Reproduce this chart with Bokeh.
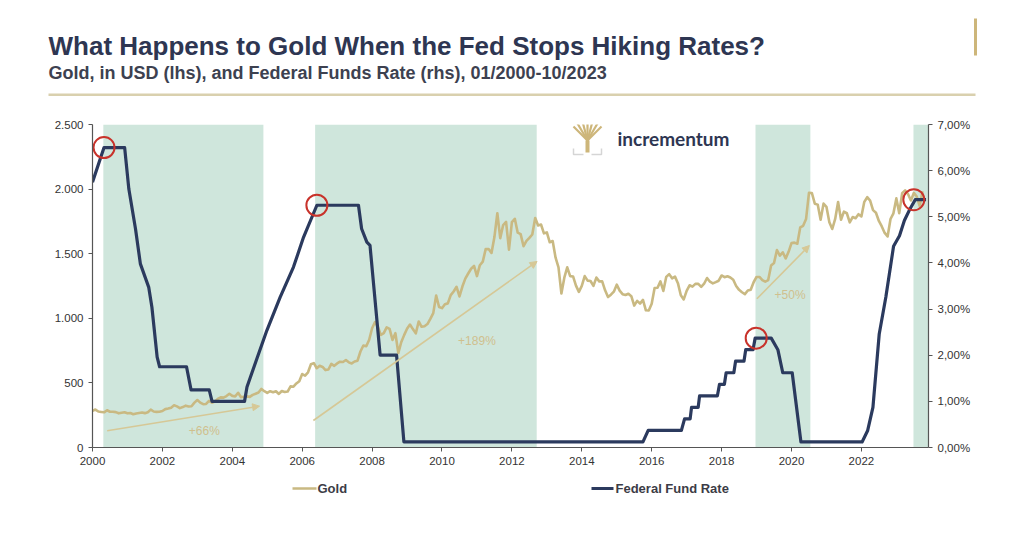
from bokeh.plotting import figure
from bokeh.layouts import column, row
from bokeh.models import (Range1d, LinearAxis, FixedTicker, Label, Arrow, NormalHead)
from bokeh.embed import file_html
from bokeh.resources import INLINE
from bokeh.core.properties import value

# ---------------- data ----------------
gold_start_year = 2000
# month-end gold price in USD, Jan 2000 .. Oct 2023
gold_usd = [
    283.3, 293.7, 278.4, 275.1, 272.3, 288.2, 276.8, 277.0, 273.7, 264.5, 269.1, 272.7,
    264.5, 266.7, 257.7, 263.2, 267.5, 270.6, 265.9, 273.0, 293.1, 278.8, 275.5, 276.5,
    282.3, 296.9, 301.4, 308.2, 326.6, 318.5, 304.7, 312.8, 323.7, 316.9, 319.1, 347.2,
    367.5, 347.5, 334.9, 336.8, 361.4, 346.0, 354.8, 375.6, 388.0, 386.3, 398.4, 416.3,
    399.8, 395.9, 423.7, 388.5, 393.3, 395.8, 391.4, 407.3, 415.7, 425.6, 453.4, 435.6,
    422.2, 435.5, 427.5, 435.7, 414.5, 437.1, 429.0, 433.3, 473.3, 470.8, 495.7, 513.0,
    568.8, 556.0, 582.0, 644.0, 653.0, 613.5, 632.5, 623.5, 599.3, 603.8, 646.7, 632.0,
    650.5, 664.2, 661.8, 677.0, 659.1, 650.5, 665.5, 672.0, 743.0, 789.5, 783.5, 833.8,
    923.3, 971.5, 933.5, 871.0, 885.8, 930.3, 918.0, 833.0, 884.5, 730.8, 814.5, 869.8,
    919.5, 952.0, 916.5, 883.3, 975.5, 934.5, 939.0, 955.5, 995.8, 1040.0, 1175.8, 1087.5,
    1078.5, 1109.5, 1115.5, 1179.3, 1207.5, 1244.0, 1169.0, 1246.0, 1307.0, 1346.8, 1383.5, 1405.5,
    1327.0, 1411.0, 1439.0, 1535.5, 1536.5, 1505.5, 1628.5, 1813.5, 1620.0, 1722.0, 1746.0, 1531.0,
    1744.0, 1770.0, 1662.5, 1651.3, 1558.0, 1598.5, 1622.0, 1648.5, 1776.0, 1719.0, 1726.0, 1657.5,
    1664.8, 1588.5, 1598.3, 1469.0, 1394.5, 1192.0, 1314.5, 1394.8, 1326.5, 1324.0, 1253.0, 1204.5,
    1251.0, 1326.5, 1291.8, 1288.5, 1250.5, 1315.0, 1285.8, 1285.8, 1216.5, 1164.3, 1182.8, 1206.0,
    1260.3, 1214.0, 1187.0, 1180.3, 1190.3, 1171.0, 1098.4, 1135.0, 1114.0, 1142.4, 1061.9, 1060.0,
    1111.8, 1234.9, 1237.0, 1285.7, 1212.1, 1320.8, 1342.0, 1309.3, 1322.5, 1272.0, 1178.1, 1145.9,
    1212.8, 1255.6, 1244.9, 1266.5, 1266.2, 1243.3, 1267.6, 1311.8, 1283.1, 1270.2, 1280.2, 1291.0,
    1331.3, 1318.4, 1325.5, 1315.5, 1298.6, 1250.5, 1220.1, 1201.5, 1187.3, 1214.9, 1220.7, 1279.0,
    1319.8, 1320.0, 1295.4, 1283.6, 1295.5, 1409.0, 1427.6, 1528.4, 1485.3, 1510.9, 1463.4, 1514.8,
    1582.5, 1585.7, 1577.2, 1702.8, 1715.9, 1768.1, 1971.0, 1970.0, 1886.9, 1879.9, 1762.6, 1887.6,
    1863.2, 1743.3, 1691.1, 1769.1, 1899.9, 1763.2, 1825.8, 1813.1, 1742.8, 1783.4, 1774.8, 1805.9,
    1788.2, 1901.4, 1937.4, 1911.3, 1837.2, 1817.0, 1753.4, 1711.0, 1660.6, 1633.6, 1768.5, 1812.4,
    1928.1, 1813.8, 1969.0, 1990.0, 1962.2, 1912.3, 1970.5, 1942.3, 1870.1, 1983.9,
]

fed_dates = [2000.00, 2000.33, 2000.92, 2001.04, 2001.23, 2001.37, 2001.61, 2001.70, 2001.85, 2001.92,
             2002.69, 2002.82, 2003.34, 2003.42, 2004.35, 2004.42, 2004.70, 2004.99, 2005.37, 2005.75,
             2006.04, 2006.42, 2007.61, 2007.70, 2007.85, 2007.94, 2008.23, 2008.70, 2008.91, 2015.75,
             2015.90, 2016.85, 2016.94, 2017.10, 2017.14, 2017.33, 2017.37, 2017.88, 2017.94, 2018.08,
             2018.13, 2018.35, 2018.40, 2018.64, 2018.69, 2018.90, 2018.96, 2019.42, 2019.61, 2019.75,
             2020.02, 2020.27, 2022.02, 2022.18, 2022.33, 2022.51, 2022.70, 2022.92, 2023.09, 2023.23,
             2023.37, 2023.54, 2023.85]
fed_rates = [5.75, 6.5, 6.5, 5.6, 4.74, 3.98, 3.47, 3.04, 1.96, 1.75,
             1.75, 1.25, 1.25, 1.0, 1.0, 1.31, 1.92, 2.54, 3.26, 3.91,
             4.56, 5.25, 5.25, 4.74, 4.45, 4.38, 2.0, 2.0, 0.12, 0.12,
             0.37, 0.37, 0.62, 0.62, 0.87, 0.87, 1.12, 1.12, 1.37, 1.37,
             1.62, 1.62, 1.87, 1.87, 2.12, 2.12, 2.37, 2.37, 2.12, 1.62,
             1.62, 0.12, 0.12, 0.37, 0.87, 2.46, 3.26, 4.36, 4.59, 4.92,
             5.14, 5.37, 5.37]

# periods after the Fed stopped hiking (shaded)
pause_start = [2000.31, 2006.37, 2018.97, 2023.49]
pause_end = [2004.89, 2012.71, 2020.54, 2023.92]

# last hike (circled)
peak_dates = [2000.33, 2006.42, 2018.99, 2023.50]
peak_rates = [6.5, 5.25, 2.37, 5.37]

# gold trend arrows
trend_x0 = [2000.42, 2006.32, 2019.01]
trend_y0 = [130, 209, 1151]
trend_x1 = [2004.78, 2012.72, 2020.51]
trend_y1 = [320, 1440, 1563]
trend_labels = ["+66%", "+189%", "+50%"]
trend_label_x = [2003.2, 2011.0, 2019.96]
trend_label_y = [130, 823, 1181]

x_ticks = [2000, 2002, 2004, 2006, 2008, 2010, 2012, 2014, 2016, 2018, 2020, 2022]
gold_ticks = [0, 500, 1000, 1500, 2000, 2500]
gold_tick_labels = ["0", "500", "1.000", "1.500", "2.000", "2.500"]
rate_ticks = [0, 1, 2, 3, 4, 5, 6, 7]
rate_tick_labels = ["0,00%", "1,00%", "2,00%", "3,00%", "4,00%", "5,00%", "6,00%", "7,00%"]

title_text = "What Happens to Gold When the Fed Stops Hiking Rates?"
subtitle_text = "Gold, in USD (lhs), and Federal Funds Rate (rhs), 01/2000-10/2023"
series_names = ["Gold", "Federal Fund Rate"]

# ---------------- styling ----------------
GOLD = "#c9b982"
NAVY = "#2b3a5e"
SHADE = "#cfe6dc"
TXT = "#2e3652"
FONT = "Liberation Sans"
W = 1010

X0, X1 = 2000.0, 2023.92
FW, FH = 836, 323


def blank(h):
    f = figure(width=W, height=h, x_range=Range1d(0, W), y_range=Range1d(h, 0),
               min_border=0, output_backend="svg", toolbar_location=None)
    f.axis.visible = False
    f.grid.visible = False
    f.outline_line_color = None
    return f


# ---------------- header ----------------
head = blank(104)
head.text(x=[48], y=[45], text=[title_text], text_font=value(FONT), text_font_style="bold",
          text_font_size="26px", text_color=TXT, text_baseline="middle")
head.text(x=[48], y=[72.5], text=[subtitle_text], text_font=value(FONT), text_font_style="bold",
          text_font_size="18px", text_color="#3d4150", text_baseline="middle")
head.quad(left=[48], right=[975], top=[93], bottom=[95.5], fill_color="#d9d0ae", line_color=None)
head.quad(left=[973.5], right=[976.5], top=[18], bottom=[55], fill_color="#cdb67a", line_color=None)

# ---------------- main chart ----------------
p = figure(frame_width=FW, frame_height=FH, min_border_left=92, min_border_right=W - 92 - FW,
           min_border_top=20, min_border_bottom=28,
           x_range=Range1d(X0, X1), y_range=Range1d(0, 2500),
           output_backend="svg", toolbar_location=None)
p.extra_y_ranges = {"rate": Range1d(0, 7)}
p.outline_line_color = None
p.grid.visible = False

p.quad(left=pause_start, right=pause_end, bottom=0, top=2500,
       fill_color=SHADE, line_color=None)

gold_x = [gold_start_year + i / 12 for i in range(len(gold_usd))]
p.line(gold_x, gold_usd, line_color=GOLD, line_width=2.6, line_join="round")
p.line(fed_dates, fed_rates, line_color=NAVY, line_width=3.2,
       y_range_name="rate", line_join="round")

for x0, y0, x1, y1 in zip(trend_x0, trend_y0, trend_x1, trend_y1):
    p.add_layout(Arrow(x_start=x0, y_start=y0, x_end=x1, y_end=y1,
                       line_color="#d6c896", line_width=1.6,
                       end=NormalHead(size=7, fill_color="#d6c896", line_color="#d6c896")))
p.text(x=trend_label_x, y=trend_label_y, text=trend_labels, text_color="#cfc08e",
       text_font=value(FONT), text_font_size="12px", text_align="center",
       text_baseline="middle")

p.scatter(peak_dates, peak_rates, marker="circle", size=21, fill_color=None,
          line_color="#c8332b", line_width=2, y_range_name="rate")

p.xaxis.ticker = FixedTicker(ticks=x_ticks)
p.yaxis.ticker = FixedTicker(ticks=gold_ticks)
p.yaxis.major_label_overrides = dict(zip(gold_ticks, gold_tick_labels))
raxis = LinearAxis(y_range_name="rate", ticker=FixedTicker(ticks=rate_ticks),
                   major_label_overrides=dict(zip(rate_ticks, rate_tick_labels)))
p.add_layout(raxis, "right")
for ax in [p.xaxis[0], p.yaxis[0], raxis]:
    ax.axis_line_color = "#555555"
    ax.axis_line_width = 1.2
    ax.major_tick_line_color = "#555555"
    ax.major_tick_out = 4
    ax.major_tick_in = 0
    ax.minor_tick_line_color = None
    ax.major_label_text_font = FONT
    ax.major_label_text_font_size = "11.5px"
    ax.major_label_text_color = "#333333"
    ax.major_label_standoff = 5

# logo
p.add_layout(Label(x=525, y=309, x_units="screen", y_units="screen", text="incrementum",
                   text_font="Lato", text_font_style="bold", text_font_size="19px",
                   text_color=TXT, text_baseline="middle"))


def px(fx, fy):
    return X0 + fx * (X1 - X0) / FW, fy * 2500 / FH


tx, ty = 495, 307
branch_ends = [(-14, 14), (-10, 17), (-5, 19), (0, 19), (5, 19), (10, 17), (14, 14)]
bx0, by0, bx1, by1 = [], [], [], []
for dx, dy in branch_ends:
    a = px(tx, ty)
    b = px(tx + dx, ty + dy)
    bx0.append(a[0]); by0.append(a[1]); bx1.append(b[0]); by1.append(b[1])
p.segment(bx0, by0, bx1, by1, line_color="#cdb67a", line_width=2.2)
t0 = px(tx, ty - 12)
t1 = px(tx, ty)
p.segment([t0[0]], [t0[1]], [t1[0]], [t1[1]], line_color="#cdb67a", line_width=4)
g = [px(tx - 14, ty - 8), px(tx - 14, ty - 14), px(tx - 4, ty - 14),
     px(tx + 4, ty - 14), px(tx + 14, ty - 14), px(tx + 14, ty - 8)]
p.line([g[0][0], g[1][0], g[2][0]], [g[0][1], g[1][1], g[2][1]], line_color="#d5d5d5", line_width=1.5)
p.line([g[3][0], g[4][0], g[5][0]], [g[3][1], g[4][1], g[5][1]], line_color="#d5d5d5", line_width=1.5)

# ---------------- legend row ----------------
foot = blank(34)
ly = 13
foot.segment(x0=[292, 591], y0=[ly, ly], x1=[316, 613], y1=[ly, ly],
             line_color=[GOLD, NAVY], line_width=[2.6, 3.2])
foot.text(x=[317, 615], y=[ly, ly], text=series_names, text_font=value(FONT),
          text_font_style="bold", text_font_size="13px", text_color="#3c3c46",
          text_baseline="middle")

layout = column(row(head), p, row(foot), spacing=0)
open("out.html", "w").write(file_html(layout, INLINE))
